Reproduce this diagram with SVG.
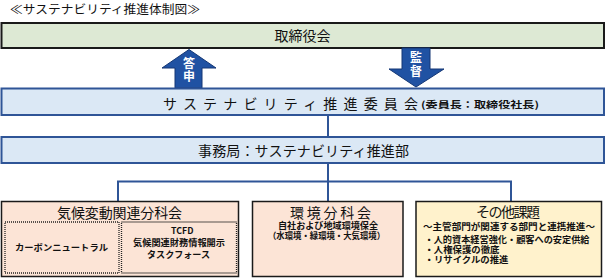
<svg xmlns="http://www.w3.org/2000/svg" width="606" height="278" viewBox="0 0 606 278">
<style>
text{font-family:"Noto Sans CJK JP","Noto Sans",sans-serif;fill:#111}
.t14{font-size:14px}
.t9{font-size:8.8px;font-weight:bold}
.mid{text-anchor:middle}
.board{fill:#dde9d4;stroke:#1a1a1a;stroke-width:2}
.blue{fill:#dbe8f5;stroke:#2f5597;stroke-width:2}
.peach{fill:#fce4d6;stroke:#1a1a1a;stroke-width:1.5}
.yellow{fill:#fff2cc;stroke:#1a1a1a;stroke-width:1.5}
.dot{fill:none;stroke:#222;stroke-width:1.3;stroke-dasharray:1 1}
.conn{fill:none;stroke:#2f5597;stroke-width:2}
.arrow{fill:#2052a3;stroke:#143775;stroke-width:1}
.atext{font-size:12px;font-weight:bold;fill:#fff;writing-mode:vertical-rl;letter-spacing:1.5px}
</style>
<text x="10" y="14" style="font-size:12px" textLength="190" lengthAdjust="spacingAndGlyphs">≪サステナビリティ推進体制図≫</text>

<g id="connectors">
<path class="conn" d="M328,115 V137"/>
<path class="conn" d="M328,163 V201"/>
<path class="conn" d="M118,201 V181.5 H511 V201"/>
</g>

<g id="board">
<rect class="board" x="1.5" y="23" width="602.5" height="25"/>
<text class="t14 mid" x="302.5" y="41">取締役会</text>
</g>

<g id="arrow-up">
<polygon class="arrow" points="175,88 175,68 162,68 189,49.5 216,68 202,68 202,88"/>
<text class="atext" x="189" y="57">答申</text>
</g>

<g id="arrow-down">
<polygon class="arrow" points="402,48 430,48 430,69 444,69 416,87 389,69 402,69"/>
<text class="atext" x="416" y="51.5">監督</text>
</g>

<g id="committee">
<rect class="blue" x="1.5" y="88.5" width="602.5" height="26.5"/>
<text class="t14" x="163" y="109" textLength="255" lengthAdjust="spacing">サステナビリティ推進委員会</text>
<text x="421" y="108" style="font-size:9.3px;font-weight:bold" textLength="118" lengthAdjust="spacingAndGlyphs">(委員長：取締役社長)</text>
</g>

<g id="secretariat">
<rect class="blue" x="1.5" y="137" width="602.5" height="26"/>
<text class="t14" x="198" y="156" textLength="211" lengthAdjust="spacing">事務局：サステナビリティ推進部</text>
</g>

<g id="climate">
<rect class="peach" x="1.5" y="201.5" width="237" height="75"/>
<text class="t14" x="57" y="218" textLength="125" lengthAdjust="spacing">気候変動関連分科会</text>
<rect class="dot" x="5" y="222" width="114" height="51"/>
<rect class="dot" x="121.5" y="222" width="115" height="51"/>
<text class="t9" x="15" y="251" textLength="93" lengthAdjust="spacingAndGlyphs">カーボンニュートラル</text>
<text class="t9"><tspan x="171" y="234">TCFD</tspan><tspan x="133" y="246" textLength="92" lengthAdjust="spacingAndGlyphs">気候関連財務情報開示</tspan><tspan x="147" y="257.5" textLength="63" lengthAdjust="spacingAndGlyphs">タスクフォース</tspan></text>
</g>

<g id="environment">
<rect class="peach" x="252.5" y="201.5" width="150.5" height="75"/>
<text class="t14" x="290" y="218" textLength="81" lengthAdjust="spacing">環境分科会</text>
<text class="t9"><tspan x="278" y="229" textLength="100" lengthAdjust="spacingAndGlyphs">自社および地域環境保全</tspan><tspan x="268" y="238.5" textLength="117" lengthAdjust="spacingAndGlyphs">（水環境・緑環境・大気環境）</tspan></text>
</g>

<g id="other">
<rect class="yellow" x="416" y="201.5" width="185.5" height="75"/>
<text class="mid" x="508" y="217" style="font-size:14px" textLength="64" lengthAdjust="spacing">その他課題</text>
<text class="t9"><tspan x="423" y="230" textLength="172" lengthAdjust="spacingAndGlyphs">～主管部門が関連する部門と連携推進～</tspan><tspan x="424.5" y="243" textLength="165" lengthAdjust="spacingAndGlyphs">・人的資本経営強化・顧客への安定供給</tspan><tspan x="424.5" y="253" textLength="75" lengthAdjust="spacingAndGlyphs">・人権保護の徹底</tspan><tspan x="424.5" y="262.5" textLength="84" lengthAdjust="spacingAndGlyphs">・リサイクルの推進</tspan></text>
</g>
</svg>
